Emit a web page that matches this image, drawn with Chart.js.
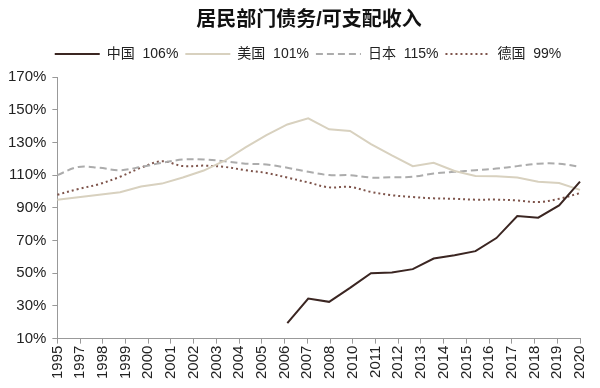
<!DOCTYPE html>
<html>
<head>
<meta charset="utf-8">
<script src="https://cdn.jsdelivr.net/npm/chart.js@4.4.1/dist/chart.umd.min.js"></script>
<style>
  html, body { margin: 0; padding: 0; background: #fff; }
</style>
</head>
<body>
<canvas id="myChart" width="600" height="388"></canvas>
<script>
// data years (one point per year)
var years = ['1995','1996','1997','1998','1999','2000','2001','2002','2003','2004','2005','2006','2007',
             '2008','2009','2010','2011','2012','2013','2014','2015','2016','2017','2018','2019','2020'];
// axis labels as printed on the original (1996 and 2009 are missing there)
var tickLabels = ['1995','1997','1998','1999','2000','2001','2002','2003','2004','2005','2006','2007',
                  '2008','2010','2011','2012','2013','2014','2015','2016','2017','2018','2019','2020'];

var names = ['中国', '美国', '日本', '德国'];
var lastPct = ['106%', '101%', '115%', '99%'];

var china = [null, null, null, null, null, null, null, null, null, null, null,
             19.5, 34.5, 32.5, 41, 50, 50.5, 52.5, 59, 61, 63.5, 71.5, 85, 84, 91.5, 106];
var usa = [95, 96.5, 98, 99.5, 103, 104.8, 108.5, 112.8, 118.8, 127, 134.5, 141, 144.7,
           138, 137, 129, 122, 115.5, 117.5, 112.5, 109.5, 109.3, 108.5, 106, 105.2, 101];
var japan = [110, 115, 114.5, 113, 115, 117.5, 119.5, 119.5, 118.5, 117, 116.5, 114.5, 112,
             110, 110, 108.5, 108.7, 109, 111, 112, 113, 114, 115.5, 117, 117, 115];
var germany = [98, 101.5, 104.5, 109, 114.5, 118.5, 115.5, 115.8, 115, 113, 111.3, 108.5, 105.5,
               102.5, 102.8, 99.7, 97.7, 96.6, 95.8, 95.5, 95, 95, 94.5, 93.5, 95.5, 99];

var fontFam = "'Liberation Sans', 'Noto Sans CJK SC', sans-serif";

// a bit more room under the legend, and nudge title + legend right like the original
const tweakBoxes = {
  id: 'tweakBoxes',
  beforeInit(chart) {
    const fit = chart.legend.fit;
    chart.legend.fit = function() {
      fit.bind(chart.legend)();
      this.height += 6;
    };
  },
  afterLayout(chart) {
    chart.legend.left += 14;
    chart.legend.right += 14;
    chart.titleBlock.left += 15;
    chart.titleBlock.right += 15;
  }
};

const ctx = document.getElementById('myChart').getContext('2d');
const myChart = new Chart(ctx, {
  type: 'line',
  data: {
    labels: years,
    datasets: [
      {
        label: names[0] + '  ' + lastPct[0],
        data: china,
        borderColor: '#3b2622',
        backgroundColor: '#3b2622',
        borderWidth: 2,
        pointRadius: 0,
        tension: 0
      },
      {
        label: names[1] + '  ' + lastPct[1],
        data: usa,
        borderColor: '#d8d1bf',
        backgroundColor: '#d8d1bf',
        borderWidth: 2,
        pointRadius: 0,
        tension: 0
      },
      {
        label: names[2] + '  ' + lastPct[2],
        data: japan,
        borderColor: '#acacac',
        backgroundColor: '#acacac',
        borderWidth: 2,
        borderDash: [7, 4],
        pointRadius: 0,
        tension: 0.35
      },
      {
        label: names[3] + '  ' + lastPct[3],
        data: germany,
        borderColor: '#7e544b',
        backgroundColor: '#7e544b',
        borderWidth: 2,
        borderDash: [2, 3],
        pointRadius: 0,
        tension: 0.35
      }
    ]
  },
  options: {
    responsive: false,
    animation: false,
    layout: { padding: { top: 0, right: 14, left: 2, bottom: 7 } },
    plugins: {
      title: {
        display: true,
        text: '居民部门债务/可支配收入',
        color: '#111',
        font: { family: fontFam, size: 20, weight: 'bold' },
        padding: { top: 8, bottom: 8 }
      },
      legend: {
        position: 'top',
        labels: {
          usePointStyle: true,
          pointStyle: 'line',
          pointStyleWidth: 45,
          boxWidth: 45,
          padding: 7,
          color: '#222',
          font: { family: fontFam, size: 14 },
          // point style items lose the line dash, so copy it back from the datasets
          generateLabels: function(chart) {
            var items = Chart.defaults.plugins.legend.labels.generateLabels(chart);
            items.forEach(function(it) {
              var ds = chart.data.datasets[it.datasetIndex];
              it.lineDash = ds.borderDash || [];
              it.lineWidth = ds.borderWidth;
              it.strokeStyle = ds.borderColor;
            });
            return items;
          }
        }
      },
      tooltip: { enabled: false }
    },
    scales: {
      x: {
        type: 'category',
        display: false,
        offset: false
      },
      x2: {
        type: 'category',
        labels: tickLabels,
        position: 'bottom',
        offset: false,
        grid: { drawOnChartArea: false, tickLength: 5, color: '#999' },
        border: { color: '#999' },
        ticks: {
          autoSkip: false,
          maxRotation: 90,
          minRotation: 90,
          padding: 2,
          color: '#222',
          font: { family: fontFam, size: 15 }
        }
      },
      y: {
        min: 10,
        max: 170,
        grid: { drawOnChartArea: false, tickLength: 5, color: '#999' },
        border: { color: '#999' },
        ticks: {
          stepSize: 20,
          padding: 6,
          color: '#222',
          font: { family: fontFam, size: 15 },
          callback: function(v) { return v + '%'; }
        }
      }
    }
  },
  plugins: [tweakBoxes]
});
</script>
</body>
</html>
